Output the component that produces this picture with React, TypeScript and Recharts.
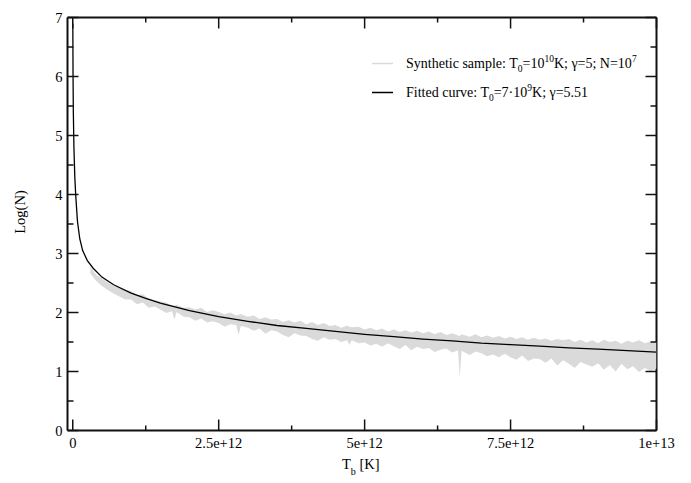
import { ComposedChart, Line, Area, XAxis, YAxis, CartesianGrid } from "recharts";

// T_b is kept in units of 1e12 K
const fitT = [
  0.001, 0.005, 0.01, 0.02, 0.035, 0.05, 0.08, 0.12, 0.17, 0.25, 0.35, 0.5, 0.7,
  1.0, 1.25, 1.5, 2.0, 2.5, 3.0, 3.5, 4.0, 4.5, 5.0, 5.5, 6.0, 6.5, 7.0, 7.5,
  8.0, 8.5, 9.0, 9.5, 10.0,
];
const fitLog = [
  6.9, 6.0, 5.4, 4.8, 4.3, 4.0, 3.55, 3.25, 3.05, 2.88, 2.75, 2.6, 2.47,
  2.33, 2.24, 2.16, 2.03, 1.93, 1.85, 1.78, 1.73, 1.68, 1.63, 1.59, 1.55, 1.52,
  1.48, 1.455, 1.43, 1.4, 1.38, 1.355, 1.33,
];

// synthetic sample: upper and lower edge of the noisy grey trace
const sampleT = [
  0.3, 0.4, 0.5, 0.6, 0.7, 0.8, 0.9,
  1.0, 1.1, 1.2, 1.3, 1.4, 1.5, 1.6, 1.7, 1.74, 1.78, 1.9,
  2.0, 2.1, 2.2, 2.3, 2.4, 2.5, 2.6, 2.7, 2.8, 2.84, 2.88,
  3.0, 3.1, 3.2, 3.3, 3.4, 3.5, 3.6, 3.7, 3.8, 3.9,
  4.0, 4.1, 4.2, 4.3, 4.4, 4.5, 4.6, 4.7, 4.74, 4.78, 4.9,
  5.0, 5.1, 5.2, 5.3, 5.4, 5.5, 5.6, 5.7, 5.8, 5.9,
  6.0, 6.1, 6.2, 6.3, 6.4, 6.5, 6.6, 6.63, 6.66, 6.8, 6.9,
  7.0, 7.1, 7.2, 7.3, 7.4, 7.5, 7.6, 7.7, 7.8, 7.9,
  8.0, 8.1, 8.2, 8.3, 8.4, 8.5, 8.6, 8.7, 8.8, 8.9,
  9.0, 9.1, 9.2, 9.3, 9.4, 9.5, 9.6, 9.7, 9.8, 9.9, 10.0,
];
const sampleHi = [
  2.78, 2.64, 2.58, 2.51, 2.45, 2.41, 2.38,
  2.37, 2.3, 2.31, 2.24, 2.21, 2.19, 2.17, 2.12, 2.12, 2.13, 2.08,
  2.09, 2.05, 2.08, 2.01, 2.04, 2.01, 1.97, 2.0, 1.95, 1.96, 1.97,
  1.93, 1.95, 1.89, 1.92, 1.88, 1.89, 1.84, 1.87, 1.83, 1.86,
  1.8, 1.84, 1.79, 1.82, 1.77, 1.79, 1.74, 1.78, 1.76, 1.75, 1.76,
  1.71, 1.74, 1.7, 1.73, 1.68, 1.71, 1.67, 1.7, 1.66, 1.69,
  1.65, 1.68, 1.63, 1.67, 1.62, 1.65, 1.61, 1.6, 1.63, 1.59, 1.63,
  1.58, 1.61, 1.57, 1.6, 1.56, 1.59, 1.55, 1.58, 1.54, 1.57,
  1.54, 1.56, 1.52, 1.55, 1.53, 1.55, 1.5, 1.54, 1.49, 1.53,
  1.48, 1.54, 1.5, 1.52, 1.47, 1.52, 1.49, 1.53, 1.48, 1.51, 1.5,
];
const sampleLo = [
  2.66, 2.54, 2.45, 2.38, 2.32, 2.27, 2.22,
  2.22, 2.14, 2.17, 2.08, 2.1, 2.05, 1.99, 2.02, 1.88, 2.01, 1.93,
  1.92, 1.86, 1.9, 1.83, 1.85, 1.82, 1.76, 1.8, 1.79, 1.62, 1.77,
  1.74, 1.69, 1.73, 1.64, 1.7, 1.68, 1.62, 1.58, 1.65, 1.61,
  1.6, 1.55, 1.52, 1.58, 1.54, 1.55, 1.5, 1.53, 1.45, 1.53, 1.48,
  1.49, 1.44, 1.47, 1.42, 1.48, 1.43, 1.38, 1.45, 1.36, 1.42,
  1.38, 1.4, 1.33, 1.37, 1.39, 1.32, 1.36, 0.9, 1.35, 1.28, 1.34,
  1.31, 1.26, 1.29, 1.24, 1.3, 1.24, 1.2, 1.27, 1.18, 1.22,
  1.21, 1.15, 1.22, 1.1, 1.19, 1.13, 1.06, 1.16, 1.12, 1.08,
  1.14, 1.03, 1.11, 1.0, 1.13, 1.04, 1.09, 0.99, 1.06, 1.01, 1.05,
];

const xMajor = [0, 2.5, 5, 7.5, 10];
const xLabels = ["0", "2.5e+12", "5e+12", "7.5e+12", "1e+13"];
const xTicks = [0, 1.25, 2.5, 3.75, 5, 6.25, 7.5, 8.75, 10];
const yTicks = [0, 0.5, 1, 1.5, 2, 2.5, 3, 3.5, 4, 4.5, 5, 5.5, 6, 6.5, 7];
const yLabels = ["0", "1", "2", "3", "4", "5", "6", "7"];

const fitData = fitT.map((t, i) => ({ t, v: fitLog[i] }));
const sampleData = sampleT.map((t, i) => ({ t, range: [sampleLo[i], sampleHi[i]] }));

const X_DOMAIN: [number, number] = [-0.09, 10];
const Y_DOMAIN: [number, number] = [0, 7];

const W = 691;
const H = 483;
const LEFT = 67.5;
const TOP = 17.5;
const RIGHT = 656.5;
const BOTTOM = 430.5;
const FONT = '"Liberation Serif", "Times New Roman", serif';
const GREY = "#dadada";
const INK = "#111";

// ticks point inward and are mirrored on the top / right edges
function XTick(props: any) {
  const { x, payload } = props;
  const i = xMajor.indexOf(payload.value);
  const len = i >= 0 ? 11 : 5;
  return (
    <g>
      <line x1={x} x2={x} y1={BOTTOM} y2={BOTTOM - len} stroke={INK} strokeWidth={1.5} />
      <line x1={x} x2={x} y1={TOP} y2={TOP + len} stroke={INK} strokeWidth={1.5} />
      {i >= 0 && (
        <text x={x} y={448} textAnchor="middle" fontFamily={FONT} fontSize={14.5} fill="#000">
          {xLabels[i]}
        </text>
      )}
    </g>
  );
}

function YTick(props: any) {
  const { y, payload } = props;
  const major = Number.isInteger(payload.value);
  const len = major ? 11 : 6;
  return (
    <g>
      <line x1={LEFT} x2={LEFT + len} y1={y} y2={y} stroke={INK} strokeWidth={1.5} />
      <line x1={RIGHT} x2={RIGHT - len} y1={y} y2={y} stroke={INK} strokeWidth={1.5} />
      {major && (
        <text x={62.5} y={y + 5} textAnchor="end" fontFamily={FONT} fontSize={14.5} fill="#000">
          {yLabels[payload.value]}
        </text>
      )}
    </g>
  );
}

// axis titles and legend, drawn underneath the (transparent) chart
function Annotations() {
  const sub = 9.5;
  return (
    <svg width={W} height={H} style={{ position: "absolute", left: 0, top: 0 }}>
      <g fontFamily={FONT} fill="#000">
        <text
          x={20}
          y={212}
          transform="rotate(-90 20 212)"
          textAnchor="middle"
          dominantBaseline="central"
          fontSize={14.5}
        >
          Log(N)
        </text>
        <text x={342} y={469} fontSize={14.5}>
          T<tspan dy={6} fontSize={10}>b</tspan>
          <tspan dy={-6}> [K]</tspan>
        </text>

        <line x1={372} x2={393} y1={63.5} y2={63.5} stroke={GREY} strokeWidth={1.5} />
        <text x={406} y={68} fontSize={14}>
          Synthetic sample: T<tspan dy={4} fontSize={sub}>0</tspan>
          <tspan dy={-4}>=10</tspan>
          <tspan dy={-6} fontSize={sub}>10</tspan>
          <tspan dy={6}>K; γ=5; N=10</tspan>
          <tspan dy={-6} fontSize={sub}>7</tspan>
        </text>

        <line x1={372} x2={393} y1={92.5} y2={92.5} stroke="#000" strokeWidth={1.5} />
        <text x={406} y={97} fontSize={14}>
          Fitted curve: T<tspan dy={4} fontSize={sub}>0</tspan>
          <tspan dy={-4}>=7·10</tspan>
          <tspan dy={-6} fontSize={sub}>9</tspan>
          <tspan dy={6}>K; γ=5.51</tspan>
        </text>
      </g>
    </svg>
  );
}

export default function App() {
  return (
    <div style={{ position: "absolute", left: 0, top: 0, width: W, height: H, background: "#fff" }}>
      <Annotations />
      <div style={{ position: "absolute", left: 0, top: 0 }}>
        <ComposedChart
          width={W}
          height={H}
          margin={{ top: TOP, right: W - RIGHT, bottom: 0, left: 0 }}
        >
          {/* plot frame */}
          <CartesianGrid
            horizontalPoints={[TOP, BOTTOM]}
            verticalPoints={[LEFT, RIGHT]}
            stroke={INK}
            strokeWidth={2}
          />
          <XAxis
            dataKey="t"
            type="number"
            domain={X_DOMAIN}
            allowDataOverflow
            ticks={xTicks}
            interval={0}
            height={H - BOTTOM}
            axisLine={false}
            tickLine={false}
            tick={XTick}
          />
          <YAxis
            type="number"
            domain={Y_DOMAIN}
            allowDataOverflow
            ticks={yTicks}
            interval={0}
            width={LEFT}
            axisLine={false}
            tickLine={false}
            tick={YTick}
          />
          <Area
            data={sampleData}
            dataKey="range"
            type="linear"
            stroke="none"
            fill={GREY}
            fillOpacity={1}
            isAnimationActive={false}
          />
          <Line
            data={fitData}
            dataKey="v"
            type="linear"
            stroke="#000"
            strokeWidth={1.3}
            dot={false}
            isAnimationActive={false}
          />
        </ComposedChart>
      </div>
    </div>
  );
}
